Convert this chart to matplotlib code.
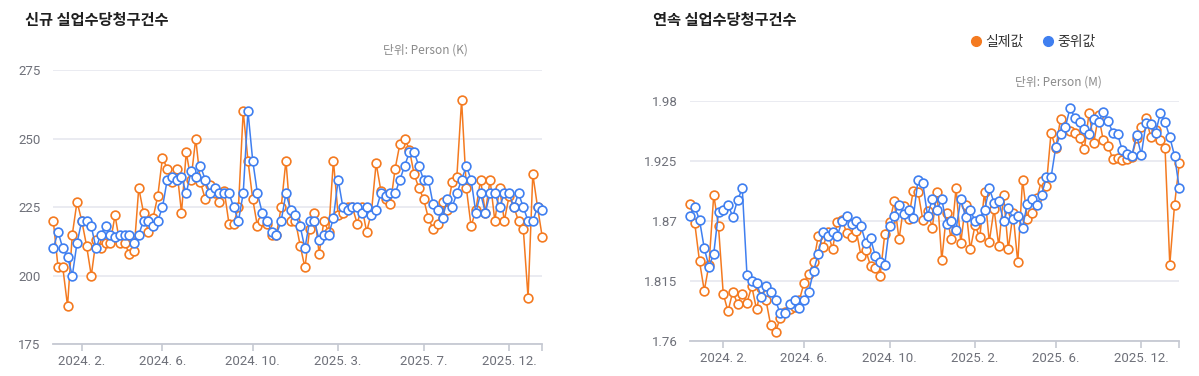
import numpy as np
import matplotlib
matplotlib.use('Agg')
import matplotlib.pyplot as plt
from matplotlib.lines import Line2D

plt.rcParams['font.family'] = ['Roboto', 'Noto Sans CJK KR', 'DejaVu Sans']

ORANGE = '#f47a20'
BLUE = '#3f7ff0'

# 신규 실업수당청구건수 (K)
initial_actual = [220, 203, 203, 189, 215, 227, 220, 211, 200, 213,
                  210, 212, 212, 222, 212, 212, 208, 209, 232, 223,
                  216, 221, 229, 243, 239, 234, 239, 223, 245, 235,
                  250, 234, 228, 233, 230, 227, 231, 219, 219, 225,
                  260, 242, 228, 218, 220, 219, 215, 215, 225, 242,
                  220, 220, 211, 203, 217, 223, 208, 220, 216, 242,
                  222, 223, 225, 225, 219, 225, 216, 223, 241, 231,
                  228, 226, 239, 248, 250, 246, 237, 232, 228, 221,
                  217, 219, 227, 224, 234, 236, 264, 232, 218, 224,
                  235, 223, 235, 220, 232, 220, 229, 225, 220, 217,
                  192, 237, 225, 214]
initial_median = [210, 216, 210, 207, 200, 212, 220, 220, 218, 210,
                  215, 218, 215, 214, 215, 215, 215, 212, 215, 220,
                  220, 218, 220, 225, 235, 236, 235, 236, 230, 238,
                  236, 240, 235, 230, 232, 230, 230, 230, 225, 220,
                  230, 260, 242, 230, 223, 220, 216, 215, 220, 230,
                  224, 222, 218, 210, 220, 220, 213, 215, 215, 221,
                  235, 225, 224, 225, 225, 223, 225, 222, 224, 230,
                  229, 230, 230, 235, 240, 245, 245, 240, 235, 235,
                  226, 224, 221, 228, 225, 230, 235, 240, 235, 223,
                  230, 223, 230, 230, 225, 230, 230, 225, 230, 225,
                  220, 220, 225, 224]
initial_tick_idx = [6, 23, 42, 60, 78, 96]
initial_tick_labels = ['2024. 2.', '2024. 6.', '2024. 10.', '2025. 3.', '2025. 7.', '2025. 12.']
initial_yticks = [175, 200, 225, 250, 275]

# 연속 실업수당청구건수 (M)
cont_actual = [1.886, 1.868, 1.833, 1.806, 1.830, 1.894, 1.865, 1.803, 1.787, 1.805,
               1.794, 1.803, 1.795, 1.810, 1.789, 1.808, 1.797, 1.774, 1.768, 1.781,
               1.786, 1.789, 1.791, 1.797, 1.813, 1.821, 1.832, 1.856, 1.846, 1.860,
               1.844, 1.869, 1.871, 1.859, 1.855, 1.861, 1.838, 1.843, 1.829, 1.827,
               1.819, 1.858, 1.869, 1.888, 1.853, 1.884, 1.872, 1.898, 1.897, 1.871,
               1.879, 1.864, 1.897, 1.834, 1.877, 1.853, 1.900, 1.850, 1.885, 1.844,
               1.866, 1.855, 1.897, 1.851, 1.881, 1.847, 1.894, 1.844, 1.877, 1.832,
               1.908, 1.872, 1.877, 1.891, 1.907, 1.902, 1.951, 1.937, 1.964, 1.955,
               1.953, 1.951, 1.946, 1.936, 1.969, 1.942, 1.967, 1.944, 1.939, 1.927,
               1.928, 1.926, 1.927, 1.929, 1.946, 1.956, 1.965, 1.947, 1.954, 1.944,
               1.937, 1.830, 1.885, 1.923]
cont_median = [1.875, 1.883, 1.871, 1.845, 1.828, 1.840, 1.878, 1.880, 1.885, 1.874,
               1.889, 1.900, 1.820, 1.815, 1.813, 1.800, 1.810, 1.805, 1.797, 1.785,
               1.785, 1.794, 1.797, 1.790, 1.797, 1.805, 1.824, 1.840, 1.860, 1.856,
               1.860, 1.856, 1.870, 1.875, 1.867, 1.870, 1.865, 1.850, 1.854, 1.838,
               1.832, 1.830, 1.865, 1.875, 1.885, 1.876, 1.880, 1.873, 1.908, 1.905,
               1.875, 1.890, 1.880, 1.890, 1.867, 1.870, 1.862, 1.890, 1.874, 1.880,
               1.870, 1.872, 1.880, 1.900, 1.887, 1.888, 1.870, 1.882, 1.872, 1.875,
               1.864, 1.886, 1.890, 1.885, 1.894, 1.910, 1.910, 1.938, 1.950, 1.956,
               1.974, 1.965, 1.961, 1.955, 1.950, 1.964, 1.961, 1.970, 1.962, 1.951,
               1.950, 1.935, 1.932, 1.930, 1.949, 1.931, 1.960, 1.959, 1.951, 1.969,
               1.961, 1.947, 1.930, 1.900]
cont_tick_idx = [7, 24, 42, 60, 77, 95]
cont_tick_labels = ['2024. 2.', '2024. 6.', '2024. 10.', '2025. 2.', '2025. 6.', '2025. 12.']
cont_yticks = [1.76, 1.815, 1.87, 1.925, 1.98]
cont_ylabels = ['1.76', '1.815', '1.87', '1.925', '1.98']

W, H = 1199, 376


def draw_panel(ax, actual, median, tick_idx, tick_labels, yticks, ylabels):
    x = np.arange(len(actual))
    kw = dict(lw=1.1, marker='o', ms=6.3, mfc='white', mew=1.2, clip_on=False)
    ax.plot(x, actual, color=ORANGE, mec=ORANGE, zorder=3, **kw)
    ax.plot(x, median, color=BLUE, mec=BLUE, zorder=4, **kw)

    ax.set_xlim(0, len(actual) - 1)
    ax.set_ylim(yticks[0], yticks[-1])
    ax.set_yticks(yticks)
    ax.set_yticklabels(ylabels)
    ax.set_xticks(tick_idx)
    ax.set_xticklabels(tick_labels)
    ax.set_xticks([len(actual) - 1], minor=True)

    for s in ['top', 'right', 'left']:
        ax.spines[s].set_visible(False)
    ax.spines['bottom'].set_color('#c6c9d2')
    ax.spines['bottom'].set_linewidth(1.3)
    ax.yaxis.grid(True, color='#e6e8ef', lw=1.2)
    ax.set_axisbelow(True)
    ax.tick_params(axis='y', length=0, pad=9, labelcolor='#6e7079', labelsize=9.5)
    ax.tick_params(axis='x', which='both', length=5, width=1.2, color='#c6c9d2',
                   pad=3, labelcolor='#6e7079', labelsize=9.5)


fig = plt.figure(figsize=(W / 100, H / 100), dpi=100)
ax1 = fig.add_axes([53.3 / W, 1 - 344.3 / H, 489 / W, 274.3 / H])
ax2 = fig.add_axes([690 / W, 1 - 340.7 / H, 489.3 / W, 239.4 / H])

draw_panel(ax1, initial_actual, initial_median, initial_tick_idx, initial_tick_labels,
           initial_yticks, [str(v) for v in initial_yticks])
draw_panel(ax2, cont_actual, cont_median, cont_tick_idx, cont_tick_labels,
           cont_yticks, cont_ylabels)

title_kw = dict(fontsize=11, color='#1f1f1f', fontweight='bold', va='center', ha='left',
                family=['Noto Sans CJK KR', 'DejaVu Sans'])
fig.text(25 / W, 1 - 20 / H, '신규 실업수당청구건수', **title_kw)
fig.text(653 / W, 1 - 20 / H, '연속 실업수당청구건수', **title_kw)

unit_kw = dict(fontsize=8.5, color='#8a8a8a', va='center', ha='right',
               family=['Noto Sans CJK KR', 'DejaVu Sans'])
fig.text(468 / W, 1 - 50 / H, '단위: Person (K)', **unit_kw)
fig.text(1102 / W, 1 - 82 / H, '단위: Person (M)', **unit_kw)

handles = [Line2D([], [], ls='none', marker='o', ms=7, color=ORANGE, label='실제값'),
           Line2D([], [], ls='none', marker='o', ms=7, color=BLUE, label='중위값')]
leg = fig.legend(handles=handles, loc='center right', ncol=2, frameon=False,
                 bbox_to_anchor=(1096 / W, 1 - 42 / H), bbox_transform=fig.transFigure,
                 borderaxespad=0, borderpad=0, handletextpad=0.25, columnspacing=1.3,
                 handlelength=0.9, prop={'family': ['Noto Sans CJK KR', 'DejaVu Sans'], 'size': 10})
for t in leg.get_texts():
    t.set_color('#333333')

fig.savefig('out.png', dpi=100)
